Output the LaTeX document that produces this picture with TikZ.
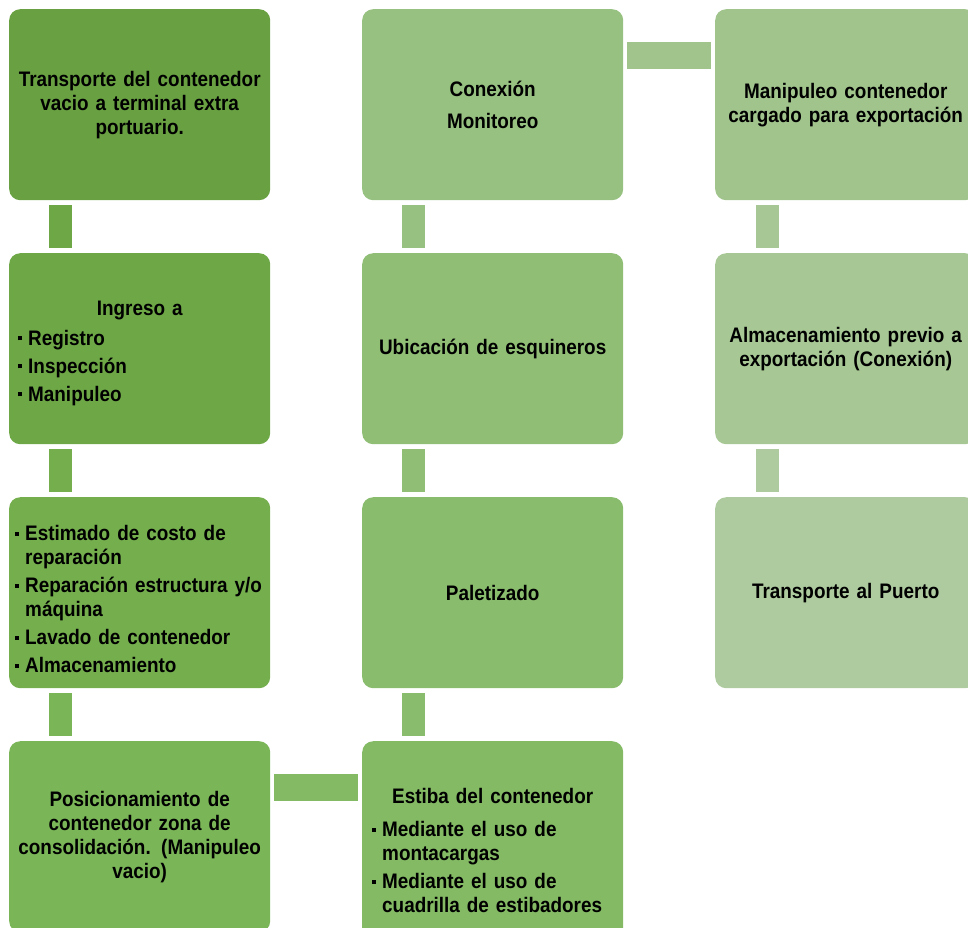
\documentclass[tikz,border=0pt]{standalone}
\usepackage{fontspec}
\setmainfont{Liberation Sans}[FakeStretch=0.9]
\usetikzlibrary{calc}
\definecolor{g1}{HTML}{69A142}
\definecolor{g2}{HTML}{6EA846}
\definecolor{g3}{HTML}{74AE4D}
\definecolor{g4}{HTML}{7AB557}
\definecolor{g5}{HTML}{83BA63}
\definecolor{g6}{HTML}{89BC6C}
\definecolor{g7}{HTML}{8FBE74}
\definecolor{g8}{HTML}{97C180}
\definecolor{g9}{HTML}{A0C48B}
\definecolor{g10}{HTML}{A7C894}
\definecolor{g11}{HTML}{ADCB9E}
\newcommand{\bl}[1]{\par\noindent\hangindent=10pt\hangafter=1\makebox[10pt][l]{\raisebox{5pt}{\rule{4pt}{4pt}}}#1}
\begin{document}
\begin{tikzpicture}[x=1pt,y=-1pt,
  box/.style={draw=none, rounded corners=11pt, minimum width=261pt, minimum height=191pt,
    inner sep=6pt, text width=249pt, anchor=north west,
    font=\fontsize{21}{24}\selectfont\bfseries},
  vconn/.style={line width=23pt, shorten <=5pt, shorten >=5pt},
  hconn/.style={line width=27pt, shorten <=4pt, shorten >=4pt}]
\useasboundingbox (0,0) rectangle (968,927);
% column 1
\node[box, fill=g1] (a1) at (9,9) {\centering Transporte del contenedor\\ vacio a terminal extra\\ portuario.\par};
\node[box, fill=g2] (a2) at (9,253) {\raisebox{-4.5pt}[\height][\depth]{\parbox{249pt}{\raggedright\parskip=4pt
  {\centering Ingreso a\par}\vspace{2pt}
  \leftskip=3pt\bl{Registro}\bl{Inspección}\bl{Manipuleo}\par}}};
\node[box, fill=g3] (a3) at (9,497) {\raggedright\parskip=4pt
  \bl{Estimado de costo de\newline reparación}\bl{Reparación estructura y/o\newline máquina}\bl{Lavado de contenedor}\bl{Almacenamiento}\par};
\node[box, fill=g4] (a4) at (9,741) {\centering Posicionamiento de\\ contenedor zona de\\ consolidación. (Manipuleo\\ vacio)\par};
% column 2
\node[box, fill=g8] (b1) at (362,9) {\centering\parskip=8pt Conexión\par Monitoreo\par};
\node[box, fill=g7] (b2) at (362,253) {\centering Ubicación de esquineros\par};
\node[box, fill=g6] (b3) at (362,497) {\centering Paletizado\par};
\node[box, fill=g5, minimum height=219pt] (b4) at (362,741) {\raggedright\parskip=4pt
  {\centering Estiba del contenedor\par}\vspace{5pt}
  \leftskip=4pt\bl{Mediante el uso de\newline montacargas}\bl{Mediante el uso de\newline cuadrilla de estibadores}\par};
% column 3
\node[box, fill=g9] (c1) at (715,9) {\centering Manipuleo contenedor\\ cargado para exportación\par};
\node[box, fill=g10] (c2) at (715,253) {\centering Almacenamiento previo a\\ exportación (Conexión)\par};
\node[box, fill=g11] (c3) at (715,497) {\centering Transporte al Puerto\par};
% connectors
\draw[vconn, draw=g2] ($(a1.south west)+(51.5,0)$) -- ($(a2.north west)+(51.5,0)$);
\draw[vconn, draw=g3] ($(a2.south west)+(51.5,0)$) -- ($(a3.north west)+(51.5,0)$);
\draw[vconn, draw=g4] ($(a3.south west)+(51.5,0)$) -- ($(a4.north west)+(51.5,0)$);
\draw[hconn, draw=g5] ($(a4.north east)+(0,46)$) -- ($(b4.north west)+(0,46)$);
\draw[vconn, draw=g6] ($(b4.north west)+(51.5,0)$) -- ($(b3.south west)+(51.5,0)$);
\draw[vconn, draw=g7] ($(b3.north west)+(51.5,0)$) -- ($(b2.south west)+(51.5,0)$);
\draw[vconn, draw=g8] ($(b2.north west)+(51.5,0)$) -- ($(b1.south west)+(51.5,0)$);
\draw[hconn, draw=g9] ($(b1.north east)+(0,46)$) -- ($(c1.north west)+(0,46)$);
\draw[vconn, draw=g10] ($(c1.south west)+(52,0)$) -- ($(c2.north west)+(52,0)$);
\draw[vconn, draw=g11] ($(c2.south west)+(52,0)$) -- ($(c3.north west)+(52,0)$);
\end{tikzpicture}
\end{document}
